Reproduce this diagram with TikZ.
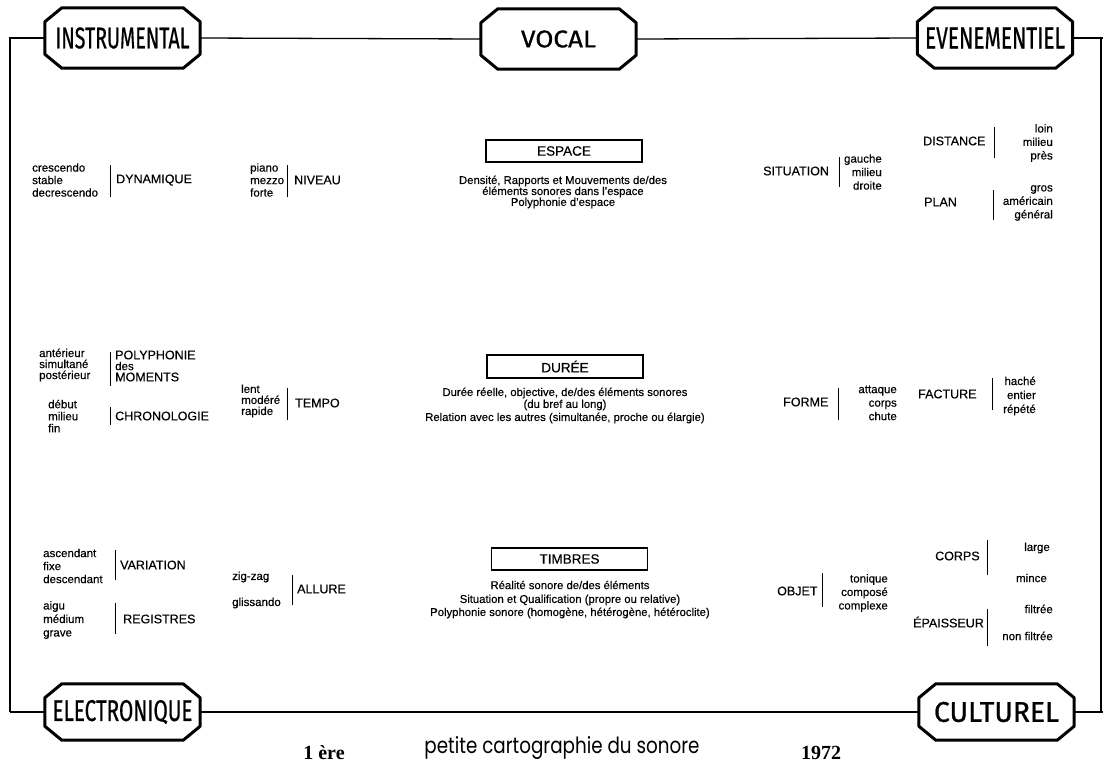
\documentclass[tikz,border=0pt]{standalone}
\usepackage{fontspec}
\usepackage{graphicx}
\setmainfont{Liberation Sans}[FakeBold=0.35]
\newfontfamily\capfont{Fira Sans}[FakeBold=0.8]
\newfontfamily\handfont{Poppins}
\newfontfamily\serffont{Liberation Serif}
\newcommand\octbox[1]{%
  \draw[octline] ([xshift=17pt]#1.north west) -- ([xshift=-17pt]#1.north east)
    -- ([yshift=-14pt]#1.north east) -- ([yshift=14pt]#1.south east)
    -- ([xshift=-17pt]#1.south east) -- ([xshift=17pt]#1.south west)
    -- ([yshift=14pt]#1.south west) -- ([yshift=-14pt]#1.north west) -- cycle;}
\begin{document}
\begin{tikzpicture}[x=1pt,y=-1pt,
  txt/.style={inner sep=0pt, font={\fontsize{11.5}{12}\selectfont}},
  lab/.style={inner sep=0pt, font={\fontsize{12.5}{13}\selectfont}},
  lst/.style={inner sep=0pt, align=left, font={\fontsize{11.5}{#1}\selectfont}},
  rlst/.style={inner sep=0pt, align=right, font={\fontsize{11.5}{#1}\selectfont}},
  desc/.style={inner sep=0pt, font={\fontsize{11.3}{12}\selectfont}},
  titlebox/.style={draw, line width=1.6pt, inner sep=0pt, minimum width=156pt, minimum height=22pt, font={\fontsize{13.5}{14}\selectfont}},
  octnode/.style={inner sep=0pt, minimum width=155pt, minimum height=60pt},
  octline/.style={line width=3pt, line join=round},
  frame/.style={line width=1.3pt},
  bar/.style={line width=0.9pt},
  foot/.style={inner sep=0pt, font={\serffont\bfseries\fontsize{20}{20}\selectfont}}]
\useasboundingbox (0,0) rectangle (1103,771);
\fill[white] (0,0) rectangle (1103,771);

% frame corners
\coordinate (tl) at (10,38);
\coordinate (tr) at (1101,38);
\coordinate (tre) at (1103,38);
\coordinate (bl) at (10,712);
\coordinate (br) at (1101,712);
\coordinate (bre) at (1103,712);

% octagon title boxes
\node[octnode] (instr) at (122.5,38) {\resizebox{134pt}{21pt}{\capfont INSTRUMENTAL}};
\node[octnode] (vocal) at (558.5,39) {\resizebox{75pt}{17pt}{\capfont VOCAL}};
\node[octnode] (even) at (995,38) {\resizebox{140pt}{21pt}{\capfont EVENEMENTIEL}};
\node[octnode, minimum height=56pt] (elec) at (122.5,712) {\resizebox{140pt}{21pt}{\capfont ELECTRONIQUE}};
\node[octnode, minimum height=56pt] (cult) at (996.5,712) {\resizebox{125pt}{20pt}{\capfont CULTUREL}};
\octbox{instr}
\octbox{vocal}
\octbox{even}
\octbox{elec}
\octbox{cult}

\draw[frame] (bl) -- (tl) -- (instr.west);
\draw[frame] (instr.east) -- (vocal.west);
\draw[frame] (vocal.east) -- (even.west);
\draw[frame] (even.east) -- (tre);
\draw[frame] (tr) -- (br);
\draw[frame] (bl) -- (elec.west);
\draw[frame] (elec.east) -- (cult.west);
\draw[frame] (cult.east) -- (bre);

% ---------- row 1 ----------
\node[lst=12.5, anchor=west] (dynl) at (32,180) {crescendo\\stable\\decrescendo};
\draw[bar] (110,165) -- (110,197);
\node[lab, anchor=west] (dyn) at (116,180) {DYNAMIQUE};
\node[lst=12.5, anchor=west] (nivl) at (250,180) {piano\\mezzo\\forte};
\draw[bar] (287,165) -- (287,197);
\node[lab, anchor=west] (niv) at (294,180) {NIVEAU};

\node[titlebox] (espace) at (564,151) {ESPACE};
\node[desc] (esp1) at (563,181) {Densité, Rapports et Mouvements de/des};
\node[desc] (esp2) at (563,192) {éléments sonores dans l'espace};
\node[desc] (esp3) at (563,203) {Polyphonie d'espace};

\node[lab, anchor=west] (sit) at (763,171) {SITUATION};
\draw[bar] (839,157) -- (839,187);
\node[rlst=13.5, anchor=east] (sitl) at (882,172) {gauche\\milieu\\droite};
\node[lab, anchor=west] (dist) at (923,141) {DISTANCE};
\draw[bar] (994,127) -- (994,158);
\node[rlst=13.5, anchor=east] (distl) at (1053,143) {loin\\milieu\\près};
\node[lab, anchor=west] (plan) at (924,202) {PLAN};
\draw[bar] (993,190) -- (993,220);
\node[rlst=13.5, anchor=east] (planl) at (1053,203) {gros\\américain\\général};

% ---------- row 2 ----------
\node[lst=11, anchor=west] (polyl) at (39,365) {antérieur\\simultané\\postérieur};
\draw[bar] (110,352) -- (110,386);
\node[lab, anchor=west] (poly1) at (115,355) {POLYPHONIE};
\node[txt, anchor=west] (poly2) at (115,366) {des};
\node[lab, anchor=west] (poly3) at (115,377) {MOMENTS};
\node[lst=12, anchor=west] (chrl) at (48,416) {début\\milieu\\fin};
\draw[bar] (110,407) -- (110,425);
\node[lab, anchor=west] (chr) at (115,416) {CHRONOLOGIE};
\node[lst=11, anchor=west] (tmpl) at (241,401) {lent\\modéré\\rapide};
\draw[bar] (287,388) -- (287,420);
\node[lab, anchor=west] (tmp) at (295,403) {TEMPO};

\node[titlebox, minimum height=23pt] (duree) at (565,366.5) {DURÉE};
\node[desc] (dur1) at (565,393) {Durée réelle, objective, de/des éléments sonores};
\node[desc] (dur2) at (565,405) {(du bref au long)};
\node[desc] (dur3) at (565,418) {Relation avec les autres (simultanée, proche ou élargie)};

\node[lab, anchor=west] (forme) at (783,402) {FORME};
\draw[bar] (838,388) -- (838,420);
\node[rlst=13.5, anchor=east] (formel) at (897,403) {attaque\\corps\\chute};
\node[lab, anchor=west] (fact) at (918,394) {FACTURE};
\draw[bar] (992,378) -- (992,410);
\node[rlst=14, anchor=east] (factl) at (1036,396) {haché\\entier\\répété};

% ---------- row 3 ----------
\node[lst=13, anchor=west] (varl) at (43,566) {ascendant\\fixe\\descendant};
\draw[bar] (115,550) -- (115,580);
\node[lab, anchor=west] (var) at (120,565) {VARIATION};
\node[lst=13.5, anchor=west] (regl) at (43,620) {aigu\\médium\\grave};
\draw[bar] (115,603) -- (115,634);
\node[lab, anchor=west] (reg) at (123,619) {REGISTRES};
\node[txt, anchor=west] (zig) at (232,577) {zig-zag};
\node[txt, anchor=west] (gli) at (232,603) {glissando};
\draw[bar] (292,575) -- (292,605);
\node[lab, anchor=west] (all) at (297,589) {ALLURE};

\node[titlebox] (timb) at (569.5,559) {TIMBRES};
\node[desc] (tim1) at (570,585) {Réalité sonore de/des éléments};
\node[desc] (tim2) at (570,600) {Situation et Qualification (propre ou relative)};
\node[desc] (tim3) at (570,613) {Polyphonie sonore (homogène, hétérogène, hétéroclite)};

\node[lab, anchor=west] (obj) at (777,591) {OBJET};
\draw[bar] (822,573) -- (822,607);
\node[rlst=13.5, anchor=east] (objl) at (888,593) {tonique\\composé\\complexe};
\node[lab, anchor=west] (corps) at (935,556) {CORPS};
\draw[bar] (987,540) -- (987,575);
\node[txt, anchor=east] (large) at (1050,548) {large};
\node[txt, anchor=east] (mince) at (1047,578) {mince};
\node[lab, anchor=west] (epa) at (913,622) {ÉPAISSEUR};
\draw[bar] (987,609) -- (987,646);
\node[txt, anchor=east] (filt) at (1053,609) {filtrée};
\node[txt, anchor=east] (nfilt) at (1053,636) {non filtrée};

% ---------- footer ----------
\node[foot] (ere) at (324,753) {1 ère};
\node[inner sep=0pt] (titre) at (562,748) {\resizebox{275pt}{17pt}{\handfont petite cartographie du sonore}};
\node[foot] (year) at (821,753) {1972};
\end{tikzpicture}
\end{document}
